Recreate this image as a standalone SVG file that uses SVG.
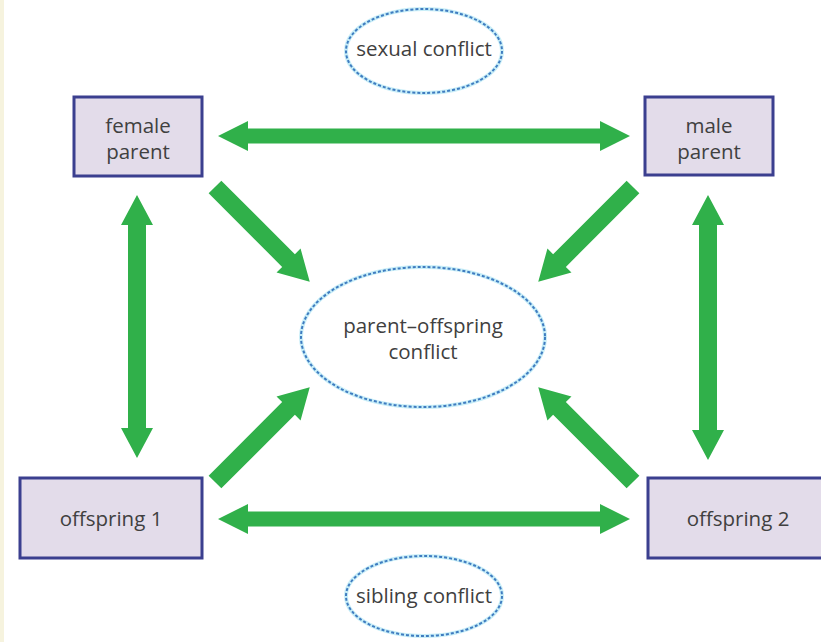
<svg xmlns="http://www.w3.org/2000/svg" width="821" height="642" viewBox="0 0 821 642">
<defs>
<style>
.box{fill:#e3dcea;stroke:#3b3f8f;stroke-width:3}
.lbl{font-family:"Open Sans","Noto Sans","Liberation Sans",sans-serif;font-size:20.5px;fill:#404040;text-anchor:middle}
.halo{fill:none;stroke:#c9eef8;stroke-width:4}
.dot{fill:none;stroke:#3f7cc0;stroke-width:2;stroke-dasharray:3 2}
.arr{fill:#30b04a}
</style>
</defs>
<rect x="0" y="0" width="821" height="642" fill="#ffffff"/>
<rect x="0" y="0" width="4" height="642" fill="#f6f3de"/>

<g id="connectors">
<polygon class="arr" transform="translate(218,136)" points="0,0 30,-15 30,-7.5 382,-7.5 382,-15 412,0 382,15 382,7.5 30,7.5 30,15"/>
<polygon class="arr" transform="translate(218,519)" points="0,0 30,-15 30,-7.5 382,-7.5 382,-15 412,0 382,15 382,7.5 30,7.5 30,15"/>
<polygon class="arr" transform="translate(137,195) rotate(90)" points="0,0 30,-16 30,-9 233,-9 233,-16 263,0 233,16 233,9 30,9 30,16"/>
<polygon class="arr" transform="translate(708,195) rotate(90)" points="0,0 30,-16 30,-9 235,-9 235,-16 265,0 235,16 235,9 30,9 30,16"/>
<polygon class="arr" transform="translate(215,187) rotate(45)" points="0,-9 104,-9 104,-17 134,0 104,17 104,9 0,9"/>
<polygon class="arr" transform="translate(633,187) rotate(135)" points="0,-9 104,-9 104,-17 134,0 104,17 104,9 0,9"/>
<polygon class="arr" transform="translate(215,482) rotate(-45)" points="0,-9 104,-9 104,-17 134,0 104,17 104,9 0,9"/>
<polygon class="arr" transform="translate(633,482) rotate(-135)" points="0,-9 104,-9 104,-17 134,0 104,17 104,9 0,9"/>
</g>

<g id="female-parent">
<rect class="box" x="74" y="97" width="128" height="79"/>
<text class="lbl" x="138" y="133">female</text>
<text class="lbl" x="138" y="159">parent</text>
</g>
<g id="male-parent">
<rect class="box" x="645" y="97" width="128" height="78"/>
<text class="lbl" x="709" y="133">male</text>
<text class="lbl" x="709" y="159">parent</text>
</g>
<g id="offspring-1">
<rect class="box" x="20" y="478" width="182" height="80"/>
<text class="lbl" x="111" y="526">offspring 1</text>
</g>
<g id="offspring-2">
<rect class="box" x="648" y="478" width="190" height="80"/>
<text class="lbl" x="738" y="526">offspring 2</text>
</g>
<g id="parent-offspring-conflict">
<ellipse class="halo" cx="423" cy="337" rx="122" ry="70"/>
<ellipse class="dot" cx="423" cy="337" rx="122" ry="70"/>
<text class="lbl" x="423" y="333">parent–offspring</text>
<text class="lbl" x="423" y="359">conflict</text>
</g>
<g id="sexual-conflict">
<ellipse class="halo" cx="424" cy="51" rx="78" ry="42"/>
<ellipse class="dot" cx="424" cy="51" rx="78" ry="42"/>
<text class="lbl" x="424" y="56">sexual conflict</text>
</g>
<g id="sibling-conflict">
<ellipse class="halo" cx="424" cy="596" rx="78" ry="40"/>
<ellipse class="dot" cx="424" cy="596" rx="78" ry="40"/>
<text class="lbl" x="424" y="603">sibling conflict</text>
</g>
</svg>
